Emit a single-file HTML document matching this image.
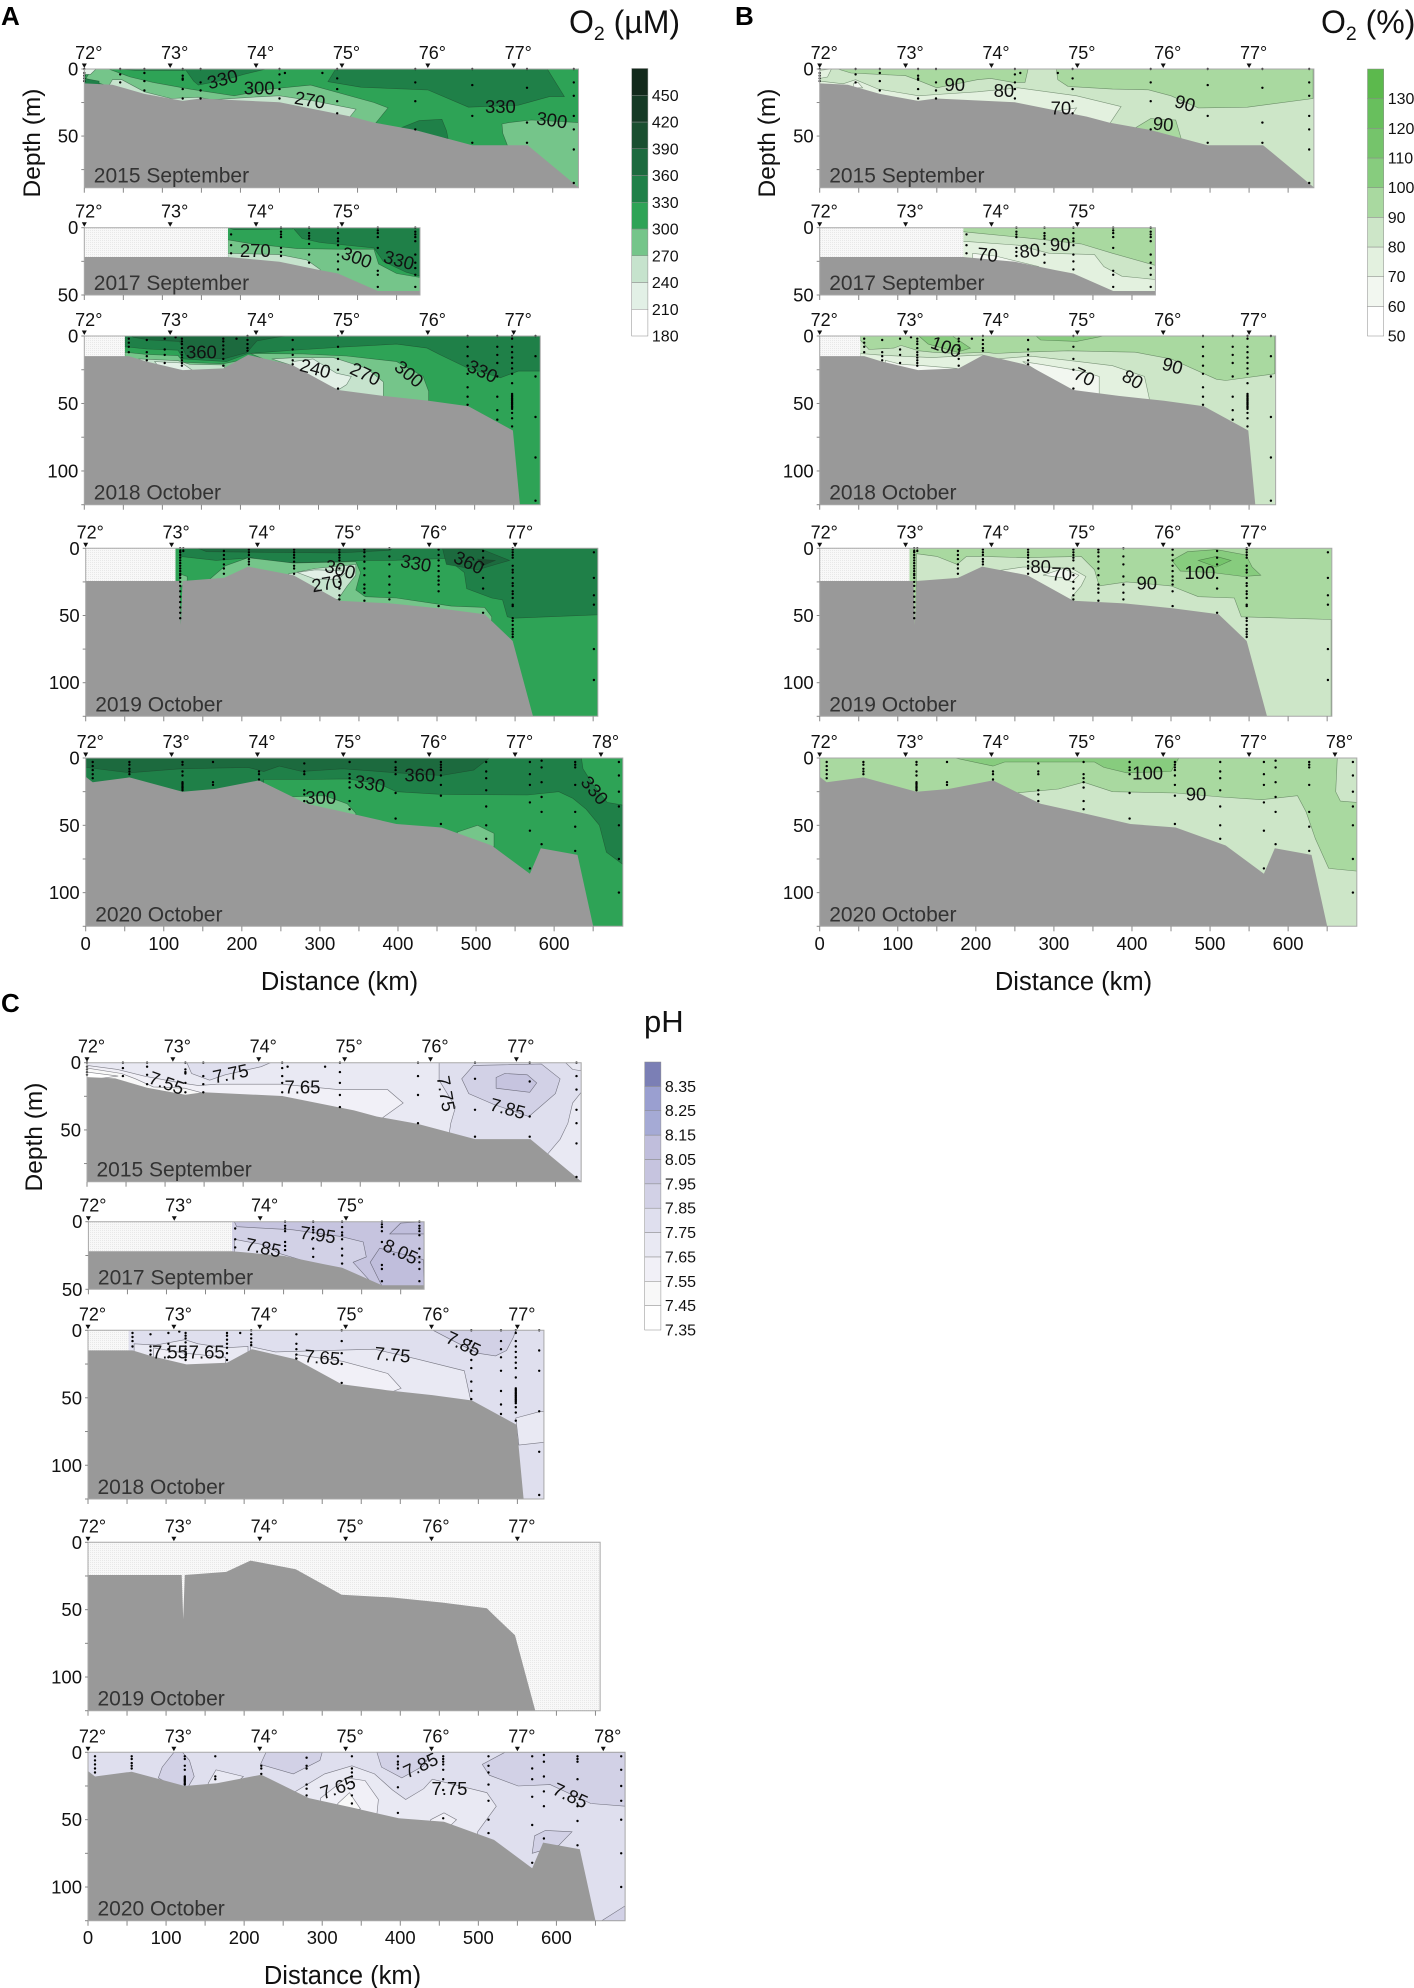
<!DOCTYPE html>
<html lang="en">
<head>
<meta charset="utf-8">
<title>Oxygen and pH sections</title>
<style>
html,body{margin:0;padding:0;background:#fff}
#chart{display:block;width:1414px;height:1988px;font-family:"Liberation Sans",Arial,sans-serif}
</style>
</head>
<body>
<svg id="chart" xmlns="http://www.w3.org/2000/svg" width="1414" height="1988" viewBox="0 0 1414 1988">
<defs>
<pattern id="stipple" width="2" height="2" patternUnits="userSpaceOnUse">
<rect width="2" height="2" fill="#f8f8f8"/>
<rect width="1" height="1" fill="#e8e8e8"/>
</pattern>
</defs>
<text x="1" y="25" font-size="26" font-weight="bold" fill="#000">A</text>
<text x="735" y="25" font-size="26" font-weight="bold" fill="#000">B</text>
<text x="1" y="1012" font-size="26" font-weight="bold" fill="#000">C</text>
<text x="569" y="33" font-size="32" fill="#111">O<tspan font-size="19.5" dy="7">2</tspan><tspan dy="-7"> (µM)</tspan></text>
<text x="1321" y="33" font-size="32" fill="#111">O<tspan font-size="19.5" dy="7">2</tspan><tspan dy="-7"> (%)</tspan></text>
<text x="644" y="1032" font-size="31" fill="#111">pH</text>
<text transform="translate(40,143) rotate(-90)" text-anchor="middle" font-size="24.5" fill="#111">Depth (m)</text>
<text transform="translate(775,143) rotate(-90)" text-anchor="middle" font-size="24.5" fill="#111">Depth (m)</text>
<text transform="translate(42,1137) rotate(-90)" text-anchor="middle" font-size="24.5" fill="#111">Depth (m)</text>
<text x="339.5" y="990" text-anchor="middle" font-size="25.5" fill="#111">Distance (km)</text>
<text x="1073.5" y="990" text-anchor="middle" font-size="25.5" fill="#111">Distance (km)</text>
<text x="342.5" y="1984" text-anchor="middle" font-size="25.5" fill="#111">Distance (km)</text>
<g id="plots"></g>
</svg>
<script>
// ---- axis content ----
const latitudeLabels = [72, 73, 74, 75, 76, 77, 78];
const latitudeKm = [0, 110, 220, 330, 440, 550, 660];
const distanceTicks = [0, 100, 200, 300, 400, 500, 600];
const depthTicks = [0, 50, 100];

// ---- seabed profiles: [distance km, depth m] ----
const bed2015 = [[0,10.7],[36,11.7],[77,18.6],[126,23.8],[149,22],[250,24.8],[342,35.5],[371,40],[423,45.4],[497,56.8],[568,56.8],[633,88.3]];
const bed2017 = [[0,21.8],[184,21.8],[250,25.3],[302,31.5],[325,34],[376,47],[430,47]];
const bed2018 = [[0,14.9],[57,14.9],[80,19],[126,25.3],[178,24],[210,14],[267,21.6],[325,40],[383,44.4],[441,48],[492,52],[549,70],[558,125]];
const bed2019 = [[0,24.3],[120,24.3],[122,57],[124,24.3],[177,22],[208,13.6],[266,20],[325,39],[390,41],[453,44.7],[511,49],[518,53],[547,69],[573,125]];
const bed2020 = [[0,13.9],[9,18],[56,14.4],[124,25],[165,23],[222,16.6],[283,34],[338,41],[398,49],[456,51.6],[520,65],[569,86],[583,67],[630,72],[650,125]];

// ---- sampling stations: [distance km, [depths m]] ----
const stations2015 = [[0,[0,3,5,7,9]],[46,[0,4,10]],[77,[0,3,9,16]],[126,[0,5,7,8,15,22]],[149,[0,10,16,22]],[250,[0,4,10,15,22]],[257,[3]],[305,[3]],[324,[0,7,15,24,33]],[424,[0,10,24,45]],[497,[0,12,35,55]],[567,[0,14,40,55]],[627,[0,10,20,35,45,60,85]]];
const stations2017 = [[188,[5,13,19]],[252,[0,3,5,7,15,18,21]],[288,[0,4,6,8,12,20,26]],[325,[0,4,8,10,13,20,25,31]],[376,[0,2,4,7,15,32,35,44]],[424,[0,3,5,7,10,20,26,30,35,44]]];
const stations2018 = [[57,[2,5,8,12]],[80,[3,12,15,18]],[103,[2,10,14,20]],[117,[1]],[125,[2,4,6,9,12,14,16,18,20,22]],[178,[2,4,7,10,13,17,22]],[195,[2]],[209,[0,3,6,9,11]],[267,[3,10,14,18,21]],[325,[0,8,17,25,39]],[491,[0,8,15,22,28,38,45,51]],[529,[0,8,14,20,30,45,55,62]],[548,[0,2,8,12,16,20,24,28,35,43,44,45,46,47,48,49,50,51,52,53,54,57,61,67]],[578,[0,15,30,60,90,122]]];
const stations2019 = [[121,[0,2,3,5,7,9,11,13,15,17,19,20,22,25,28,32,36,40,44,48,52]],[125,[0,2]],[177,[2,5,8,12,15,19]],[209,[1,3,5,8,10,12]],[267,[1,3,5,7,10,13,15,19]],[325,[1,3,5,7,9,15,20,25,30,35,38]],[357,[1,3,6,10,15,20,27,30,33,39]],[389,[0,6,12,21,27,33,38]],[452,[1,5,9,13,17,21,24,27,32,43]],[509,[2,7,12,22,30,48]],[547,[0,1,3,5,7,13,16,18,22,26,28,32,34,37,42,43,52,54,57,60,62,64,66]],[651,[3,22,35,42,75,98]]];
const stations2020 = [[9,[3,6,9,12,15]],[56,[3,5,8,10,12]],[124,[3,5,10,13,18,19,20,21,22,23,24]],[163,[3,18,20]],[222,[10,12,16]],[280,[4,10,12,24,27,32]],[338,[3,12,15,18,22,32,38]],[397,[3,7,9,12,26,45]],[455,[3,5,7,9,13,20,28,49]],[513,[3,10,15,24,36,50,60]],[569,[3,12,20,33,54,82]],[584,[2,7,18,29,40,64]],[627,[3,5,7,20,40,51,69]],[683,[3,13,25,36,50,75,100]]];
const noStations = [];

// ---- O2 (µM) contour regions: [lower level, [[km,m],...]] ----
const o2Umol2015 = [
 [270,[[10,0],[31,0],[59,6],[88,10],[135,15],[192,20],[238,15],[290,12],[371,25],[389,29],[371,42],[296,38],[123,30],[31,13],[2,7]]],
 [270,[[535,41],[544,40],[573,38],[633,40],[633,90],[544,60],[536,48]]],
 [240,[[36,8],[48,8],[77,17],[111,22],[146,21],[163,23],[215,21],[250,20],[296,24],[348,30],[337,38],[296,36],[123,30],[31,13]]],
 [330,[[322,0],[312,9.5],[354,13.6],[440,15.6],[492,28.5],[556,27],[596,20.6],[615,20.6],[593,0]]],
 [330,[[129,0],[140,9],[146,12],[181,8],[204,4],[233,0]]],
 [330,[[42,0],[65,1],[129,1],[129,0]]],
 [330,[[405,44],[429,38.5],[458,37.5],[464,46],[466,52],[440,49]]],
 [330,[[0,7],[19,9],[19,13],[0,13]]],
 [210,[[0,0],[15,0],[8,4],[0,4]]]
];
const o2Umol2017 = [
 [270,[[184,9],[215,12],[273,15.5],[325,16],[371,16],[377,27],[400,34],[430,37],[430,50],[184,50]]],
 [240,[[184,19],[250,20],[285,24],[302,31],[302,40],[184,30]]],
 [330,[[267,0],[279,8],[302,11],[371,15],[383,25],[412,33],[430,36],[430,0]]],
 [330,[[184,0],[267,0],[267,1],[192,1.5]]]
];
const o2Umol2018 = [
 [330,[[52,0],[52,8],[80,9.6],[120,10.5],[127,17],[182,19],[210,13],[272,10.4],[336,8],[400,6],[439,9],[455,13.7],[492,24],[533,31],[556,26],[584,26],[584,0]]],
 [360,[[60,0],[63,1],[84,3],[122,4],[131,15],[178,17],[208,12.4],[221,3.7],[246,1],[260,0]]],
 [270,[[52,12],[80,13.7],[120,14.5],[127,19.5],[178,20.6],[200,18],[180,30],[52,30]]],
 [240,[[70,17],[120,18.3],[135,21],[180,21.5],[178,28],[80,28]]],
 [210,[[90,19],[125,20],[140,26],[100,26]]],
 [270,[[213,13],[280,13.3],[336,14.8],[400,19],[434,30],[441,41],[441,50],[325,45],[250,22]]],
 [240,[[240,17],[272,16],[319,16],[362,24],[383,34],[383,46],[325,45],[267,22]]],
 [210,[[267,19],[293,17],[323,27.6],[342,30],[336,36],[325,40],[267,24]]]
];
const o2Umol2019 = [
 [330,[[121,6],[167,9],[213,7],[236,11],[325,10],[352,9],[392,9],[462,7.5],[485,18],[488,30],[520,37],[534,38.5],[540,51],[548,52],[656,49.5],[656,0],[121,0]]],
 [360,[[144,0],[155,2.5],[323,3.5],[390,1.5],[393,0]]],
 [360,[[462,0],[508,1],[543,9],[525,12],[502,16],[462,12],[457,0]]],
 [390,[[502,8],[525,9],[508,13]]],
 [270,[[159,23],[179,13],[208,7],[266,11],[346,10],[352,18],[346,31],[358,36],[398,37],[468,43],[511,44],[520,51],[520,60],[159,60]]],
 [270,[[120,19],[130,21],[130,24],[120,30]]],
 [240,[[260,19],[294,15],[346,12],[346,20],[335,28],[323,38],[260,38]]],
 [210,[[271,18],[294,16],[335,17],[323,23],[294,23]]]
];
const o2Umol2020 = [
 [330,[[0,0],[688,0],[688,79],[667,70],[658,50],[641,38],[624,30],[606,25],[566,27.5],[456,27],[398,25],[375,19],[335,15.5],[283,16],[228,16],[228,40],[0,40]]],
 [300,[[635,0],[637,8],[650,20],[668,33],[688,35],[688,0]]],
 [360,[[0,0],[0,7],[56,11],[121,8],[208,7],[228,10],[248,6],[277,10],[329,8],[398,11],[456,13],[497,9],[517,0]]],
 [270,[[260,29],[306,28],[335,34],[346,41],[346,50],[260,50]]],
 [270,[[476,55],[502,50],[523,56],[523,66],[476,66]]]
];

// ---- O2 (%) contour regions ----
const o2Sat2015 = [
 [70,[[0,9],[30,11],[46,8],[75,15],[127,20],[150,19],[202,17],[254,14],[329,20],[386,28],[370,42],[300,40],[0,45]]],
 [70,[[0,1],[15,0],[10,6],[0,7]]],
 [60,[[43,11],[49,10],[55,14],[43,14]]],
 [60,[[294,32],[329,29],[318,38]]],
 [90,[[303,0],[305,8],[318,13],[375,15],[421,15.5],[450,20],[485,29],[548,28.5],[632,22],[632,0]]],
 [90,[[23,0],[40,3],[110,5],[124,8],[150,14],[202,8],[219,7],[248,10],[263,10],[267,0]]],
 [90,[[404,44],[424,37],[456,38],[463,52],[404,52]]]
];
const o2Sat2017 = [
 [80,[[183,3],[430,3],[430,38.5],[387,36],[364,29],[352,20],[294,19],[254,13],[183,10]]],
 [90,[[183,0],[430,0],[430,28],[375,19],[335,12],[289,9],[254,7],[183,3]]],
 [60,[[196,19],[225,21],[281,29],[196,29]]]
];
const o2Sat2018 = [
 [90,[[52,3],[63,10],[95,9],[104,7],[127,11],[144,12],[176,13],[211,12],[225,13],[260,12],[318,11],[404,12],[450,17],[508,32],[520,33],[583,28],[583,0],[52,0]]],
 [100,[[127,0],[170,0],[193,9],[176,12],[139,6]]],
 [100,[[277,0],[364,0],[329,4],[283,3]]],
 [70,[[52,13],[75,14],[104,15],[144,16],[176,15],[208,14],[225,17],[271,15],[318,18],[375,22],[416,30],[422,46],[422,60],[52,60]]],
 [60,[[84,18],[104,21],[133,22],[176,24],[176,30],[84,30]]],
 [60,[[260,19],[283,21],[335,26],[358,30],[358,45],[323,42]]]
];
const o2Sat2019 = [
 [80,[[124,4],[150,6],[176,12],[188,6],[211,6],[260,7],[335,6],[352,16],[358,28],[393,25],[450,28],[485,36],[531,37],[540,51],[655,53],[655,125],[122,125]]],
 [70,[[225,17],[260,14],[294,14],[323,15],[341,21],[335,28],[323,36],[323,42],[225,42]]],
 [60,[[286,20],[312,15],[332,20],[323,25],[312,22]]],
 [100,[[451,9],[471,2.5],[508,1],[546,5],[554,14],[565,20],[543,21],[502,18],[462,17]]],
 [110,[[485,9],[508,6],[527,9],[508,14]]]
];
const o2Sat2020 = [
 [80,[[251,26],[306,23],[338,18],[375,25],[456,26],[514,29],[566,31],[612,28],[623,40],[635,60],[652,82],[688,84],[688,125],[251,125]]],
 [80,[[663,0],[661,25],[667,32],[688,33],[688,0]]],
 [100,[[173,0],[222,6],[237,3],[352,3],[364,7],[393,11],[450,10],[460,0]]]
];

// ---- pH contour regions ----
const ph2015 = [
 [7.65,[[0,0],[451,0],[451,13],[472,33],[466,45],[463,56],[0,60]]],
 [7.75,[[128,0],[134,8],[157,13],[177,9],[223,3],[235,0]]],
 [7.55,[[0,2],[39,5],[73,10],[120,15],[143,17],[166,16],[249,16],[322,20],[385,20],[405,30],[376,42],[0,60]]],
 [7.45,[[0,4],[44,8],[62,12],[85,18],[125,19],[171,26],[0,40]]],
 [7.35,[[0,7],[40,10],[0,13]]],
 [7.85,[[480,12],[495,2],[582,1],[606,12],[600,23],[566,40],[521,31],[489,23]]],
 [7.95,[[524,11],[535,8],[564,9],[576,15],[567,22],[524,19]]],
 [7.65,[[613,0],[633,0],[633,6],[622,5]]],
 [7.65,[[633,22],[622,30],[616,45],[606,57],[590,68],[633,90]]]
];
const ph2017 = [
 [7.95,[[187,0],[430,0],[430,50],[361,50],[361,44],[339,30],[356,26],[352,15],[324,11],[262,6],[190,3.7]]],
 [8.05,[[373,19.6],[429,28],[430,50],[378,50],[361,30]]],
 [8.05,[[386,9],[400,1],[430,0],[430,9]]],
 [7.75,[[187,13],[224,17],[245,23.6],[271,28],[285,36],[187,36]]]
];
const ph2018 = [
 [7.85,[[442,0],[465,7],[499,17],[522,19],[536,15],[545,5],[548,0]]],
 [7.65,[[208,12],[240,16],[367,14],[419,21],[482,30],[491,54],[208,60]]],
 [7.65,[[59,10],[87,11],[124,7],[141,10],[176,13],[205,12],[205,40],[59,40]]],
 [7.55,[[84,13],[124,17],[176,20],[176,40],[84,40]]],
 [7.55,[[266,18],[326,23],[384,32],[401,43],[326,60],[266,24]]],
 [7.65,[[548,65],[580,60],[584,60],[584,83],[552,85]]]
];
const ph2019 = [];
const ph2020 = [
 [7.85,[[110,0],[95,11],[90,19],[124,30],[136,18],[130,6],[121,0]]],
 [7.85,[[228,0],[221,9],[263,16],[297,6],[300,0]]],
 [7.85,[[370,0],[376,11],[402,19],[430,10],[440,0]]],
 [7.85,[[534,0],[505,9],[514,17],[551,25],[592,24],[644,38],[688,40],[688,0]]],
 [7.85,[[572,62],[586,58],[620,59],[603,69],[569,75]]],
 [7.85,[[658,125],[688,114],[688,125]]],
 [7.65,[[266,29],[303,16],[338,10],[367,16],[390,28],[407,35],[430,27],[441,20],[511,30],[523,40],[499,59],[499,70],[266,70]]],
 [7.55,[[298,34],[331,19],[355,21],[372,35],[370,46],[298,44]]],
 [7.45,[[320,38],[335,30],[349,42],[320,46]]],
 [7.55,[[439,50],[456,45],[472,50],[465,54],[439,54]]],
 [7.65,[[154,23],[164,13],[199,18],[180,28],[154,28]]]
];

// ---- contour labels: [text, km, m, rotation in degrees] ----
const o2UmolLabels2015 = [[330,177,7.5,-15],[300,224,14,0],[270,289,23,10],[330,533,28,0],[300,599,38,8]];
const o2UmolLabels2017 = [[270,219,17,0],[300,349,22,20],[330,403,24,15]];
const o2UmolLabels2018 = [[360,150,12,0],[240,296,24,15],[270,360,28,25],[300,416,28,40],[330,510,26,25]];
const o2UmolLabels2019 = [[300,326,15.5,15],[270,309,26,-10],[330,423,11,10],[360,491,10.5,25]];
const o2UmolLabels2020 = [[330,364,19,10],[300,301,29.5,0],[360,428,12.5,0],[330,652,24,50]];
const o2SatLabels2015 = [[90,173,11.5,0],[80,236,16,0],[70,309,29,0],[90,468,25.5,15],[90,440,41,5]];
const o2SatLabels2017 = [[70,215,20,5],[80,269,17,-5],[90,308,12.5,0]];
const o2SatLabels2018 = [[100,162,8,20],[70,339,30,25],[80,401,32,30],[90,452,22,15]];
const o2SatLabels2019 = [[80,283,13.5,0],[70,310,19,0],[90,419,26,0],[100,487,18,0]];
const o2SatLabels2020 = [[100,420,11,0],[90,482,26.7,0]];
const phLabels2015 = [['7.55',102,15,20],['7.75',184,8,-12],['7.65',276,18,0],['7.75',460,23,80],['7.85',539,34,15]];
const phLabels2017 = [['7.95',294,9.5,8],['7.85',224,19,12],['8.05',400,22,25]];
const phLabels2018 = [['7.55',105,16,0],['7.65',152,16,0],['7.65',300,20,5],['7.75',390,18,5],['7.85',481,10,25]];
const phLabels2019 = [];
const phLabels2020 = [['7.65',320,26,-20],['7.85',426,9.5,-25],['7.75',463,27,0],['7.85',618,32,25]];

// ---- colour-bar values ----
const o2UmolLevels = [180,210,240,270,300,330,360,390,420,450,480];
const o2SatLevels = [50,60,70,80,90,100,110,120,130,140];
const phLevels = [7.35,7.45,7.55,7.65,7.75,7.85,7.95,8.05,8.15,8.25,8.35,8.45];

// ---- styling ----
const o2UmolColors = {180:'#ffffff',210:'#e2f0e6',240:'#c6e3cd',270:'#75c58a',300:'#2ea356',330:'#1f8048',360:'#1c6a3e',390:'#1a4f30',420:'#153a25',450:'#12291b'};
const o2SatColors = {50:'#ffffff',60:'#f2f7f0',70:'#e3f1df',80:'#cde6c8',90:'#a9d9a0',100:'#87cc7e',110:'#75c46b',120:'#68bf5d',130:'#5cb94d'};
const phColors = {7.35:'#ffffff',7.45:'#f8f8f8',7.55:'#f1f0f7',7.65:'#e9e9f3',7.75:'#dfdfee',7.85:'#d2d1e6',7.95:'#c6c4df',8.05:'#c0bedc',8.15:'#a5aad5',8.25:'#9a9fd0',8.35:'#7b7fb5'};

const KM_PX = 0.7807;
const NS = 'http://www.w3.org/2000/svg';
const root = document.getElementById('plots');

function make(tag, attrs, parent) {
  const node = document.createElementNS(NS, tag);
  for (const key in attrs) node.setAttribute(key, attrs[key]);
  (parent || root).appendChild(node);
  return node;
}

function drawPanel(key, yearIndex, frame, spec) {
  const xScale = km => frame.x0 + km * KM_PX;
  const yScale = m => frame.top + m * (frame.bottom - frame.top) / frame.maxDepth;
  const right = xScale(frame.maxKm);
  const pts = list => list.map(p => xScale(p[0]).toFixed(1) + ',' + yScale(p[1]).toFixed(1)).join(' ');

  const group = make('g', {});
  
  

  const clipId = 'clip-' + key + '-' + spec.year;
  const clip = make('clipPath', {id: clipId}, group);
  make('rect', {x: frame.x0, y: frame.top, width: right - frame.x0, height: frame.bottom - frame.top}, clip);
  const body = make('g', {'clip-path': 'url(#' + clipId + ')'}, group);

  const base = make('rect', {x: frame.x0, y: frame.top, width: right - frame.x0, height: frame.bottom - frame.top, fill: spec.colors[spec.base]}, body);
  
  

  spec.regions.forEach(region => {
    const band = make('polygon', {points: pts(region[1]), fill: spec.colors[region[0]], stroke: spec.line, 'stroke-width': 0.6}, body);
    
    
  });

  if (spec.noDataKm > 0) {
    const gap = make('rect', {x: frame.x0, y: frame.top, width: xScale(spec.noDataKm) - frame.x0, height: frame.bottom - frame.top, fill: 'url(#stipple)'}, body);
    
    
  }

  const last = spec.bed[spec.bed.length - 1];
  const seabed = make('polygon', {points: pts([[0, frame.maxDepth]].concat(spec.bed, [[last[0], frame.maxDepth]])), fill: '#999999'}, body);
  
  

  spec.stations.forEach(station => {
    station[1].forEach(depth => {
      const dot = make('circle', {cx: xScale(station[0]).toFixed(1), cy: yScale(depth).toFixed(1), r: 1.2, fill: '#000'}, group);
      
      
    });
  });

  spec.labels.forEach(item => {
    const cx = xScale(item[1]);
    const cy = yScale(item[2]);
    const label = make('text', {x: cx, y: cy, 'text-anchor': 'middle', 'dominant-baseline': 'central', 'font-size': 18.5, fill: '#111', transform: 'rotate(' + item[3] + ' ' + cx + ' ' + cy + ')'}, group);
    label.textContent = item[0];
    
    
  });

  const border = make('path', {d: 'M' + frame.x0 + ' ' + frame.bottom + 'V' + frame.top + 'H' + right + 'V' + frame.bottom + 'H' + frame.x0, fill: 'none', stroke: '#a8a8a8', 'stroke-width': 1}, group);
  
  

  latitudeLabels.forEach((deg, i) => {
    if (latitudeKm[i] > frame.maxKm) return;
    const tx = xScale(latitudeKm[i]);
    const mark = make('polygon', {points: (tx - 2.5) + ',' + (frame.top - 5.5) + ' ' + (tx + 2.5) + ',' + (frame.top - 5.5) + ' ' + tx + ',' + (frame.top - 1), fill: '#111'}, group);
    
    
    const lat = make('text', {x: tx + 4.5, y: frame.top - 16, 'text-anchor': 'middle', 'dominant-baseline': 'central', 'font-size': 18, fill: '#111'}, group);
    lat.textContent = deg + '°';
    
    
  });

  for (let km = 0; km <= frame.maxKm; km += 50) {
    const tick = make('line', {x1: xScale(km), x2: xScale(km), y1: frame.bottom, y2: frame.bottom + 5, stroke: '#888', 'stroke-width': 1}, group);
    
    
  }
  for (let m = 0; m <= frame.maxDepth; m += 25) {
    const tick = make('line', {x1: frame.x0 - 3, x2: frame.x0, y1: yScale(m), y2: yScale(m), stroke: '#888', 'stroke-width': 1}, group);
    
    
  }
  depthTicks.forEach(m => {
    if (m > frame.maxDepth) return;
    const label = make('text', {x: frame.x0 - 6, y: yScale(m), 'text-anchor': 'end', 'dominant-baseline': 'central', 'font-size': 18.5, fill: '#111'}, group);
    label.textContent = m;
    
    
  });
  if (yearIndex === 4) {
    distanceTicks.forEach(km => {
      const label = make('text', {x: xScale(km), y: frame.bottom + 17, 'text-anchor': 'middle', 'dominant-baseline': 'central', 'font-size': 18.5, fill: '#111'}, group);
      label.textContent = km;
      
      
    });
  }

  const title = make('text', {x: frame.x0 + 9.5, y: frame.bottom - 5, 'font-size': 21, fill: '#333'}, group);
  title.textContent = spec.title;
  
  
}

function drawColorbar(key, bar, levels, colors, decimals) {
  const group = make('g', {});
  
  
  const count = levels.length - 1;
  const step = (bar.bottom - bar.top) / count;
  const yOf = i => bar.bottom - i * step;
  for (let i = 0; i < count; i++) {
    const swatch = make('rect', {x: bar.x, y: yOf(i + 1), width: bar.width, height: step, fill: colors[levels[i]], stroke: '#8a8a8a', 'stroke-width': 0.5}, group);
    
    
  }
  for (let i = 0; i < count; i++) {
    const label = make('text', {x: bar.x + bar.width + 4, y: yOf(i) + 1, 'dominant-baseline': 'central', 'font-size': 16, fill: '#111'}, group);
    label.textContent = levels[i].toFixed(decimals);
    
    
  }
}

const titles = ['2015 September', '2017 September', '2018 October', '2019 October', '2020 October'];
const years = [2015, 2017, 2018, 2019, 2020];
const beds = [bed2015, bed2017, bed2018, bed2019, bed2020];
const stations = [stations2015, stations2017, stations2018, stations2019, stations2020];
const noDataKm = [0, 184, 52, 115, 0];

const framesA = [
  {x0: 84.3, top: 69, bottom: 187.7, maxKm: 633, maxDepth: 88.5},
  {x0: 84.3, top: 227.7, bottom: 295, maxKm: 430, maxDepth: 50},
  {x0: 84.3, top: 336, bottom: 504.7, maxKm: 584, maxDepth: 125},
  {x0: 85.7, top: 548.3, bottom: 716.3, maxKm: 656, maxDepth: 125},
  {x0: 85.7, top: 758, bottom: 926.3, maxKm: 688, maxDepth: 125}
];
const framesB = framesA.map((f, i) => Object.assign({}, f, {x0: f.x0 + (i < 3 ? 735.4 : 734)}));
const framesC = [
  {x0: 87, top: 1062.7, bottom: 1181.7, maxKm: 633, maxDepth: 88.5},
  {x0: 88.4, top: 1221.7, bottom: 1289.3, maxKm: 430, maxDepth: 50},
  {x0: 88, top: 1330.3, bottom: 1499, maxKm: 584, maxDepth: 125},
  {x0: 88, top: 1542.3, bottom: 1710.7, maxKm: 656, maxDepth: 125},
  {x0: 88, top: 1752.3, bottom: 1920.7, maxKm: 688, maxDepth: 125}
];

const sets = [
  {key: 'o2-umol', frames: framesA, colors: o2UmolColors, line: 'rgba(30,60,40,0.55)', bases: [300, 300, 300, 300, 300], regions: [o2Umol2015, o2Umol2017, o2Umol2018, o2Umol2019, o2Umol2020], labels: [o2UmolLabels2015, o2UmolLabels2017, o2UmolLabels2018, o2UmolLabels2019, o2UmolLabels2020]},
  {key: 'o2-saturation', frames: framesB, colors: o2SatColors, line: 'rgba(50,80,50,0.55)', bases: [80, 70, 80, 90, 90], regions: [o2Sat2015, o2Sat2017, o2Sat2018, o2Sat2019, o2Sat2020], labels: [o2SatLabels2015, o2SatLabels2017, o2SatLabels2018, o2SatLabels2019, o2SatLabels2020]},
  {key: 'ph', frames: framesC, colors: phColors, line: 'rgba(50,50,60,0.6)', bases: [7.75, 7.85, 7.75, 7.75, 7.75], regions: [ph2015, ph2017, ph2018, ph2019, ph2020], labels: [phLabels2015, phLabels2017, phLabels2018, phLabels2019, phLabels2020]}
];

sets.forEach(set => {
  set.frames.forEach((frame, i) => {
    const isEmptyPh = set.key === 'ph' && years[i] === 2019;
    drawPanel(set.key, i, frame, {
      year: years[i],
      title: titles[i],
      base: set.bases[i],
      colors: set.colors,
      line: set.line,
      regions: set.regions[i],
      labels: set.labels[i],
      bed: beds[i],
      stations: isEmptyPh ? noStations : stations[i],
      noDataKm: isEmptyPh ? 656 : noDataKm[i]
    });
  });
});

drawColorbar('o2-umol', {x: 631.7, top: 68.5, bottom: 336, width: 16.2}, o2UmolLevels, o2UmolColors, 0);
drawColorbar('o2-saturation', {x: 1367.5, top: 69, bottom: 336, width: 16.2}, o2SatLevels, o2SatColors, 0);
drawColorbar('ph', {x: 644.7, top: 1062, bottom: 1330, width: 16.2}, phLevels, phColors, 2);
</script>
</body>
</html>
